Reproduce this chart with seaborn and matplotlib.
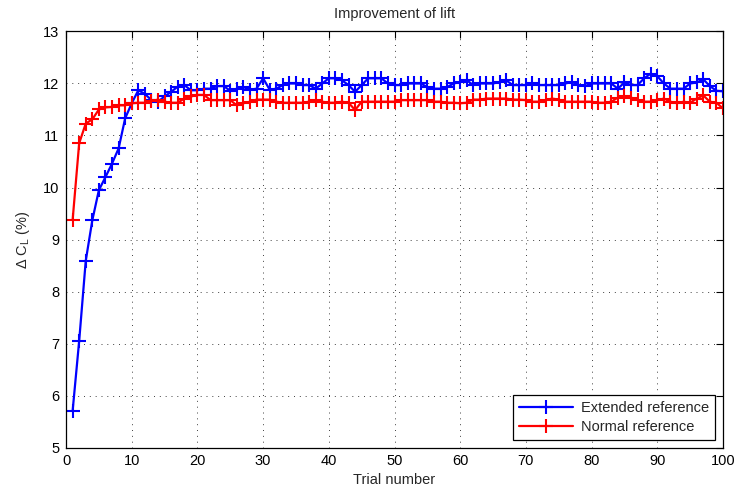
import numpy as np
import pandas as pd
import matplotlib
matplotlib.use("Agg")
import matplotlib.pyplot as plt
import seaborn as sns

# Lift improvement per trial for the two reference configurations
trials = list(range(1, 101))

extended_ref = [
    5.70, 7.05, 8.59, 9.37, 9.95, 10.20, 10.46, 10.75, 11.33, 11.62,
    11.87, 11.80, 11.68, 11.65, 11.75, 11.84, 11.94, 11.97, 11.87, 11.87,
    11.90, 11.90, 11.95, 11.95, 11.86, 11.90, 11.93, 11.88, 11.90, 12.10,
    11.88, 11.90, 11.97, 12.00, 12.00, 11.97, 11.97, 11.90, 12.00, 12.10,
    12.10, 12.06, 11.97, 11.84, 11.97, 12.10, 12.10, 12.10, 12.00, 11.97,
    11.97, 12.00, 12.00, 12.00, 11.93, 11.90, 11.90, 11.93, 12.00, 12.03,
    12.06, 11.97, 12.00, 12.00, 12.00, 12.03, 12.06, 11.97, 11.97, 11.97,
    12.00, 11.97, 11.97, 11.97, 11.97, 12.00, 12.03, 11.97, 11.95, 12.00,
    12.00, 12.00, 12.00, 11.90, 12.02, 11.97, 11.97, 12.10, 12.19, 12.14,
    12.00, 11.90, 11.90, 11.90, 12.00, 12.02, 12.08, 11.95, 11.86, 11.85,
]

normal_ref = [
    9.37, 10.85, 11.23, 11.31, 11.50, 11.54, 11.55, 11.58, 11.58, 11.62,
    11.63, 11.63, 11.66, 11.69, 11.65, 11.63, 11.63, 11.71, 11.75, 11.78,
    11.78, 11.68, 11.68, 11.68, 11.68, 11.58, 11.62, 11.65, 11.69, 11.69,
    11.69, 11.65, 11.63, 11.63, 11.63, 11.63, 11.65, 11.68, 11.65, 11.63,
    11.63, 11.65, 11.63, 11.49, 11.65, 11.65, 11.65, 11.65, 11.65, 11.65,
    11.68, 11.68, 11.68, 11.68, 11.68, 11.65, 11.65, 11.63, 11.63, 11.62,
    11.63, 11.69, 11.69, 11.71, 11.71, 11.71, 11.71, 11.69, 11.69, 11.68,
    11.65, 11.65, 11.68, 11.71, 11.69, 11.65, 11.65, 11.65, 11.65, 11.65,
    11.63, 11.63, 11.65, 11.73, 11.75, 11.73, 11.68, 11.65, 11.65, 11.68,
    11.71, 11.65, 11.62, 11.65, 11.63, 11.71, 11.77, 11.65, 11.63, 11.52,
]

series_names = ["Extended reference", "Normal reference"]
series_colors = ["#0000ff", "#ff0000"]

x_ticks = list(range(0, 101, 10))
y_ticks = list(range(5, 14))

sns.set_theme(style="white")
plt.rcParams["font.family"] = ["Liberation Sans", "DejaVu Sans"]
plt.rcParams["mathtext.fontset"] = "custom"
plt.rcParams["mathtext.rm"] = "Liberation Sans"
plt.rcParams["mathtext.it"] = "Liberation Sans:italic"

fig = plt.figure(figsize=(7.37, 4.92), dpi=100)
ax = fig.add_axes([0.0896, 0.0904, 0.8914, 0.8456])

for name, values, color in zip(series_names, [extended_ref, normal_ref], series_colors):
    sns.lineplot(
        x=trials, y=values, color=color, label=name,
        marker="+", markersize=10, markeredgewidth=1.5,
        markeredgecolor=color, linewidth=1.6, ax=ax,
    )

ax.set_xlim(0, 100)
ax.set_ylim(5, 13)
ax.set_xticks(x_ticks)
ax.set_yticks(y_ticks)
ax.tick_params(direction="in", length=5, width=0.8, top=True, right=True,
               labelsize=10.5, colors="black", pad=5)
for s in ax.spines.values():
    s.set_color("black")
    s.set_linewidth(0.9)

ax.grid(True, color="0.25", linestyle=(0, (1, 5)), linewidth=0.7)

ax.set_title("Improvement of lift", fontsize=10.5, pad=10)
ax.set_xlabel("Trial number", fontsize=10.5, labelpad=3)
ax.set_ylabel(r"Δ C$_\mathrm{L}$ (%)", fontsize=10.5, labelpad=8)

leg = ax.legend(loc="lower right", fontsize=10.5, frameon=True, fancybox=False,
                edgecolor="black", framealpha=1, handlelength=3.7,
                borderaxespad=0.55, borderpad=0.4, labelspacing=0.3,
                handletextpad=0.55)
leg.get_frame().set_linewidth(0.9)

fig.savefig("out.png", dpi=100)
